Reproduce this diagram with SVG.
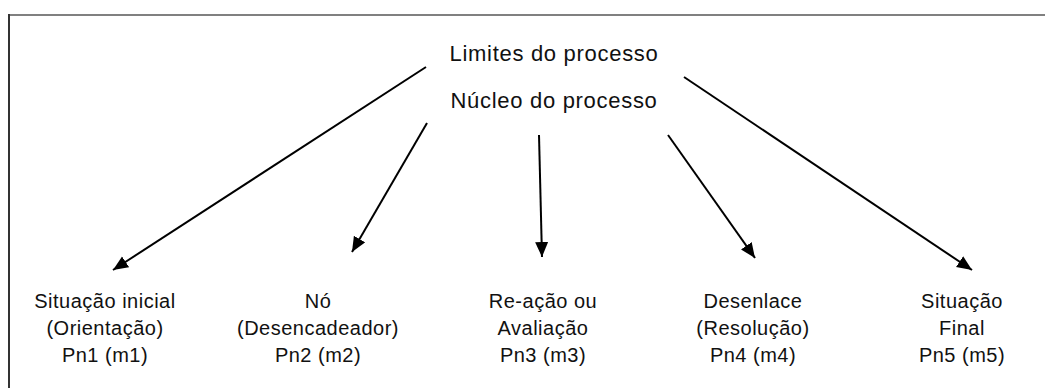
<svg xmlns="http://www.w3.org/2000/svg" width="1045" height="388" viewBox="0 0 1045 388">
<defs>
<style>
text{font-family:"Liberation Sans",Arial,sans-serif;fill:#111;text-anchor:middle}
.t{font-size:22px;letter-spacing:0.7px}
.b{font-size:20px;letter-spacing:0.5px}
.c{stroke:#000;stroke-width:2;fill:none;marker-end:url(#ah)}
</style>
<marker id="ah" markerUnits="userSpaceOnUse" markerWidth="16" markerHeight="14" refX="15" refY="6.5" orient="auto">
<path d="M0,0 L15,6.5 L0,13 z" fill="#000"/>
</marker>
</defs>
<rect width="1045" height="388" fill="#fff"/>
<g id="frame">
<line x1="9" y1="15" x2="1045" y2="15" stroke="#808080" stroke-width="2"/>
<line x1="9" y1="14" x2="9" y2="388" stroke="#333" stroke-width="2"/>
</g>
<g id="limites"><text class="t" x="554" y="61">Limites do processo</text></g>
<g id="nucleo"><text class="t" x="554" y="108">Núcleo do processo</text></g>
<g id="connectors">
<line class="c" x1="426" y1="67" x2="113" y2="270"/>
<line class="c" x1="427" y1="123" x2="352" y2="252"/>
<line class="c" x1="539" y1="135" x2="542" y2="257"/>
<line class="c" x1="668" y1="135" x2="755" y2="258"/>
<line class="c" x1="684" y1="77" x2="972" y2="270"/>
</g>
<g id="n1"><text class="b" x="105" y="308">Situação inicial</text><text class="b" x="105" y="335">(Orientação)</text><text class="b" x="105" y="362">Pn1 (m1)</text></g>
<g id="n2"><text class="b" x="318" y="308">Nó</text><text class="b" x="318" y="335">(Desencadeador)</text><text class="b" x="318" y="362">Pn2 (m2)</text></g>
<g id="n3"><text class="b" x="543" y="308">Re-ação ou</text><text class="b" x="543" y="335">Avaliação</text><text class="b" x="543" y="362">Pn3 (m3)</text></g>
<g id="n4"><text class="b" x="753" y="308">Desenlace</text><text class="b" x="753" y="335">(Resolução)</text><text class="b" x="753" y="362">Pn4 (m4)</text></g>
<g id="n5"><text class="b" x="962" y="308">Situação</text><text class="b" x="962" y="335">Final</text><text class="b" x="962" y="362">Pn5 (m5)</text></g>
</svg>
